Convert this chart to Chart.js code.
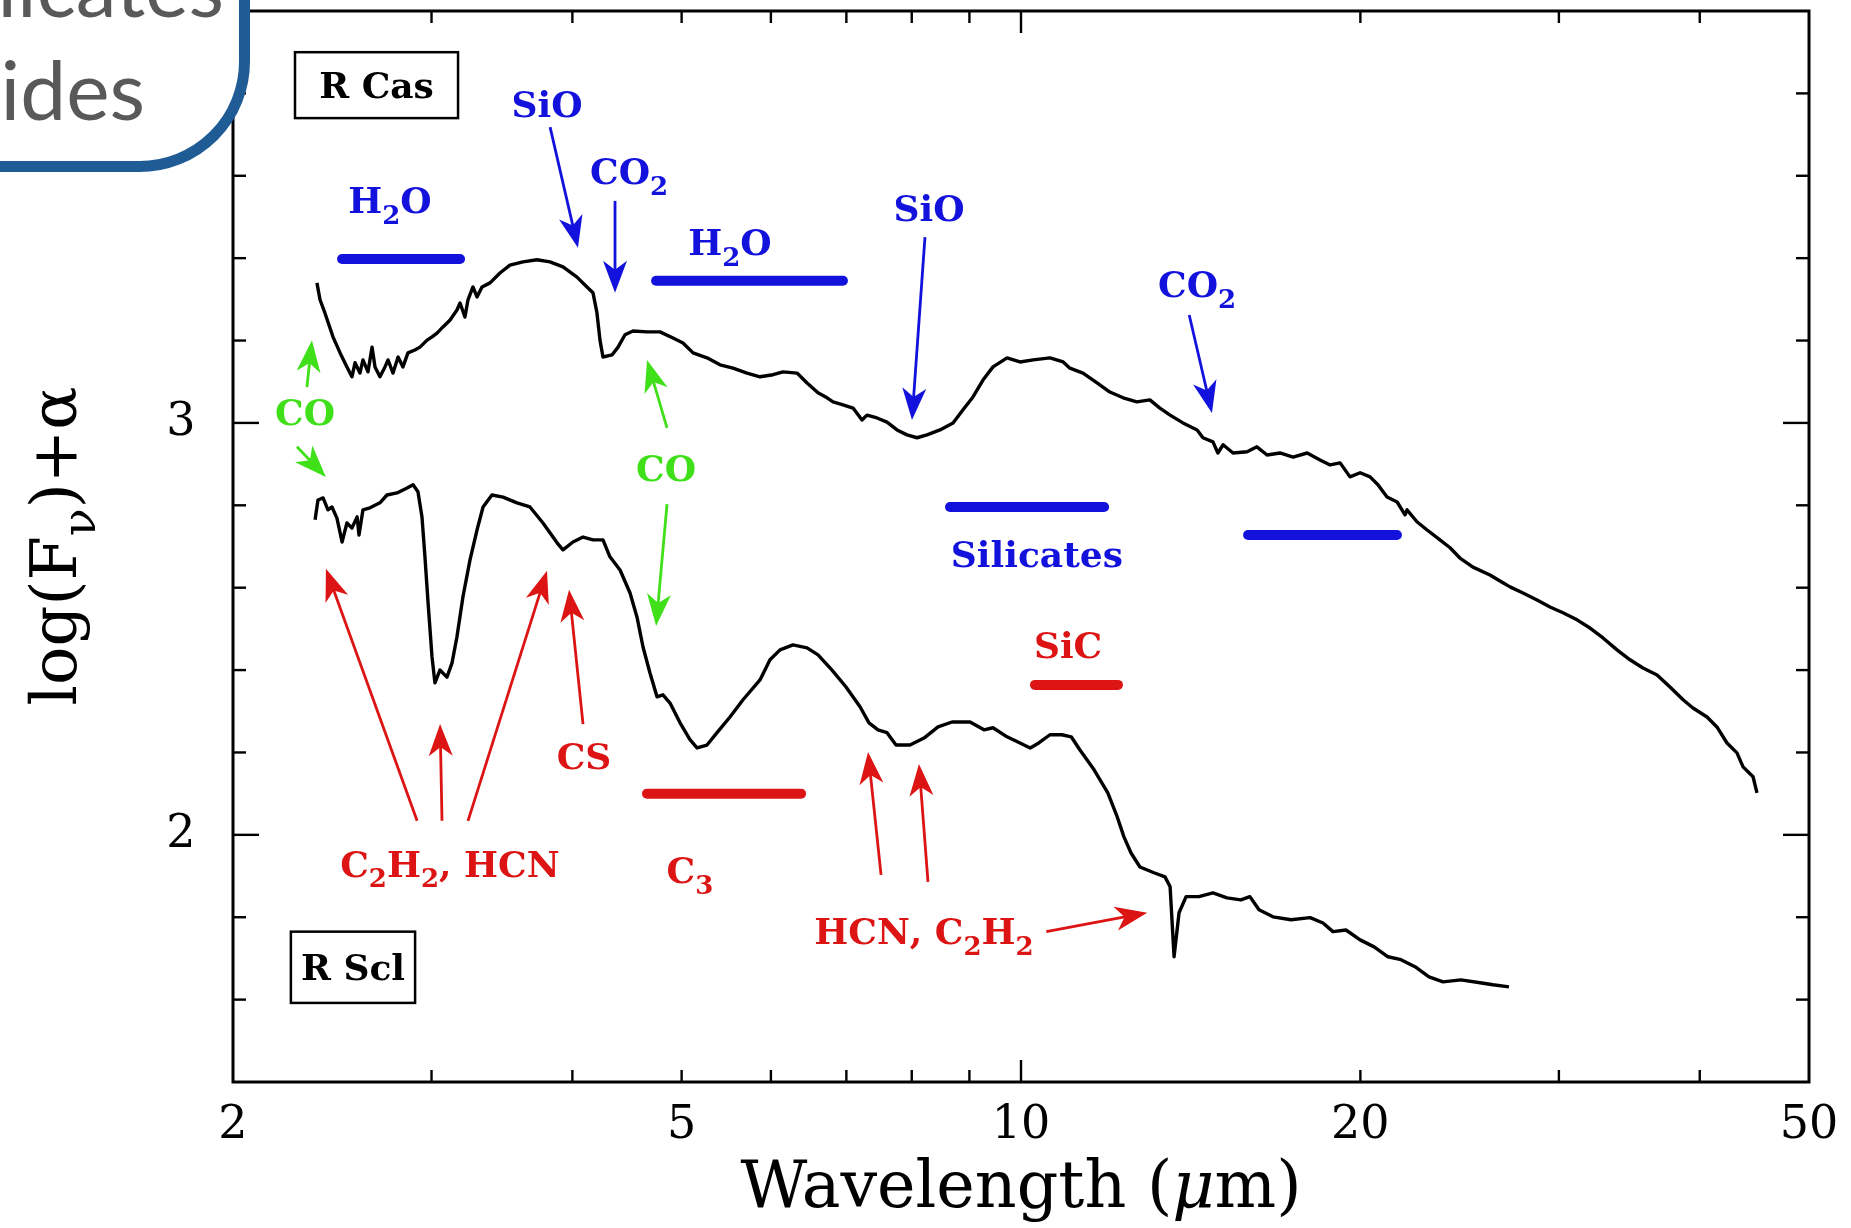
<!DOCTYPE html>
<html>
<head>
<meta charset="utf-8">
<title>R Cas / R Scl infrared spectra</title>
<script src="https://cdn.jsdelivr.net/npm/chart.js@4.4.1/dist/chart.umd.min.js"></script>
<style>
  html, body { margin: 0; padding: 0; background: #fff; }
  #wrap { width: 1851px; height: 1228px; position: relative; }
</style>
</head>
<body>
<div id="wrap"><canvas id="spectra" width="1851" height="1228"></canvas></div>
<script>
// ---- spectra: wavelength (um) and log(F_nu)+alpha ----
const rCasWave = [
  2.374, 2.389, 2.413, 2.453, 2.489, 2.524, 2.550, 2.566, 2.592, 2.608,
  2.635, 2.657, 2.673, 2.700, 2.728, 2.745, 2.773, 2.802, 2.830, 2.859,
  2.900, 2.930, 2.973, 3.003, 3.034, 3.071, 3.116, 3.160, 3.180, 3.212,
  3.232, 3.265, 3.292, 3.326, 3.381, 3.450, 3.521, 3.616, 3.721, 3.821,
  3.924, 4.038, 4.121, 4.172, 4.206, 4.232, 4.258, 4.337, 4.391, 4.454,
  4.527, 4.659, 4.784, 4.913, 5.014, 5.118, 5.266, 5.408, 5.553, 5.714,
  5.868, 6.026, 6.150, 6.329, 6.460, 6.606, 6.729, 6.812, 6.952, 7.096,
  7.227, 7.301, 7.452, 7.606, 7.763, 7.923, 8.086, 8.253, 8.475, 8.704,
  8.883, 9.066, 9.253, 9.444, 9.719, 9.979, 10.25, 10.61, 10.90, 11.05,
  11.35, 11.68, 11.99, 12.32, 12.67, 13.01, 13.28, 13.56, 13.92, 14.33,
  14.50, 14.80, 14.95, 15.11, 15.42, 15.87, 16.19, 16.53, 16.97, 17.43,
  17.94, 18.42, 18.80, 19.19, 19.58, 19.99, 20.40, 20.73, 21.12, 21.56,
  21.91, 22.00, 22.45, 22.92, 23.53, 24.02, 24.51, 25.17, 26.06, 26.76,
  27.15, 27.88, 28.69, 29.46, 30.25, 31.13, 31.97, 32.83, 33.78, 34.69,
  35.62, 36.66, 37.64, 38.66, 39.45, 40.60, 41.43, 42.29, 43.16, 43.70,
  44.60, 44.96];
const rCasFlux = [
  3.340, 3.299, 3.267, 3.209, 3.170, 3.136, 3.112, 3.146, 3.121, 3.153,
  3.124, 3.184, 3.136, 3.112, 3.136, 3.153, 3.121, 3.160, 3.136, 3.170,
  3.177, 3.184, 3.201, 3.209, 3.218, 3.233, 3.250, 3.274, 3.291, 3.257,
  3.299, 3.330, 3.306, 3.330, 3.340, 3.364, 3.383, 3.391, 3.396, 3.391,
  3.379, 3.354, 3.330, 3.316, 3.267, 3.201, 3.160, 3.165, 3.184, 3.214,
  3.223, 3.221, 3.221, 3.206, 3.194, 3.170, 3.158, 3.141, 3.133, 3.121,
  3.112, 3.117, 3.124, 3.121, 3.097, 3.073, 3.061, 3.051, 3.044, 3.036,
  3.007, 3.019, 3.012, 3.002, 2.983, 2.971, 2.964, 2.971, 2.983, 3.000,
  3.032, 3.063, 3.104, 3.136, 3.158, 3.148, 3.153, 3.158, 3.148, 3.133,
  3.121, 3.097, 3.075, 3.061, 3.051, 3.056, 3.036, 3.019, 3.000, 2.983,
  2.964, 2.954, 2.927, 2.947, 2.927, 2.930, 2.942, 2.922, 2.927, 2.917,
  2.927, 2.910, 2.898, 2.903, 2.869, 2.879, 2.869, 2.850, 2.820, 2.808,
  2.777, 2.789, 2.760, 2.740, 2.716, 2.697, 2.672, 2.650, 2.631, 2.612,
  2.602, 2.587, 2.570, 2.553, 2.539, 2.522, 2.502, 2.478, 2.449, 2.425,
  2.405, 2.388, 2.359, 2.328, 2.308, 2.286, 2.262, 2.223, 2.199, 2.165,
  2.141, 2.102];

const rSclWave = [
  2.365, 2.379, 2.404, 2.428, 2.448, 2.473, 2.499, 2.524, 2.550, 2.577,
  2.587, 2.608, 2.646, 2.700, 2.739, 2.796, 2.854, 2.889, 2.918, 2.942,
  2.960, 2.979, 3.003, 3.021, 3.052, 3.096, 3.128, 3.160, 3.199, 3.245,
  3.292, 3.333, 3.394, 3.472, 3.572, 3.668, 3.767, 3.877, 3.924, 4.005,
  4.088, 4.172, 4.258, 4.319, 4.409, 4.500, 4.564, 4.621, 4.687, 4.755,
  4.813, 4.883, 4.984, 5.086, 5.160, 5.266, 5.375, 5.519, 5.668, 5.868,
  5.989, 6.113, 6.277, 6.460, 6.606, 6.798, 6.995, 7.198, 7.331, 7.467,
  7.606, 7.747, 7.971, 8.203, 8.441, 8.686, 9.011, 9.272, 9.444, 9.719,
  9.979, 10.19, 10.37, 10.61, 10.87, 11.08, 11.28, 11.61, 11.94, 12.17,
  12.34, 12.52, 12.75, 13.12, 13.42, 13.56, 13.67, 13.81, 14.01, 14.38,
  14.80, 15.23, 15.67, 15.96, 16.26, 16.73, 17.36, 18.05, 18.53, 18.91,
  19.42, 19.99, 20.57, 21.16, 21.73, 22.36, 23.01, 23.68, 24.56, 25.54,
  26.22, 27.09];
const rSclFlux = [
  2.765, 2.813, 2.818, 2.789, 2.796, 2.769, 2.711, 2.757, 2.745, 2.772,
  2.728, 2.789, 2.794, 2.806, 2.825, 2.830, 2.842, 2.850, 2.833, 2.772,
  2.675, 2.563, 2.432, 2.369, 2.400, 2.383, 2.417, 2.481, 2.578, 2.667,
  2.740, 2.796, 2.825, 2.820, 2.806, 2.796, 2.757, 2.709, 2.692, 2.711,
  2.723, 2.716, 2.716, 2.675, 2.643, 2.587, 2.529, 2.456, 2.393, 2.335,
  2.340, 2.320, 2.272, 2.231, 2.211, 2.218, 2.248, 2.286, 2.328, 2.376,
  2.425, 2.449, 2.461, 2.454, 2.437, 2.400, 2.359, 2.311, 2.272, 2.255,
  2.248, 2.218, 2.218, 2.235, 2.262, 2.274, 2.274, 2.255, 2.260, 2.238,
  2.223, 2.211, 2.223, 2.243, 2.243, 2.238, 2.206, 2.158, 2.102, 2.044,
  1.995, 1.956, 1.922, 1.908, 1.898, 1.874, 1.704, 1.811, 1.850, 1.850,
  1.859, 1.847, 1.842, 1.850, 1.818, 1.801, 1.794, 1.799, 1.786, 1.765,
  1.769, 1.745, 1.728, 1.704, 1.697, 1.680, 1.655, 1.643, 1.648, 1.641,
  1.636, 1.631];

// ---- axes ----
const xTicks = [3, 4, 5, 6, 7, 8, 9, 10, 20, 30, 40];
const xMajorTicks = [10];
const xTickLabels = [2, 5, 10, 20, 50];
const yTicks = [1.6, 1.8, 2.0, 2.2, 2.4, 2.6, 2.8, 3.0, 3.2, 3.4, 3.6, 3.8];
const yMajorTicks = [2, 3];
const yTickLabels = [2, 3];

// ---- molecular band labels: [text, wavelength, flux, colour]  ("_" = subscript) ----
const featureLabels = [
  ['SiO', 3.798, 3.774, 'blue'],
  ['CO_2', 4.491, 3.612, 'blue'],
  ['H_2O', 2.756, 3.540, 'blue'],
  ['H_2O', 5.519, 3.439, 'blue'],
  ['SiO', 8.287, 3.522, 'blue'],
  ['CO_2', 14.33, 3.337, 'blue'],
  ['Silicates', 10.33, 2.682, 'blue'],
  ['CO', 2.317, 3.027, 'green'],
  ['CO', 4.843, 2.891, 'green'],
  ['C_2H_2, HCN', 3.115, 1.930, 'red'],
  ['CS', 4.096, 2.192, 'red'],
  ['C_3', 5.086, 1.915, 'red'],
  ['SiC', 11.01, 2.461, 'red'],
  ['HCN, C_2H_2', 8.202, 1.767, 'red']
];
// arrows: [fromWave, fromFlux, toWave, toFlux, colour]
const featureArrows = [
  [3.822, 3.718, 4.046, 3.425, 'blue'],
  [4.364, 3.539, 4.364, 3.316, 'blue'],
  [8.219, 3.451, 8.004, 3.007, 'blue'],
  [14.10, 3.262, 14.77, 3.024, 'blue'],
  [2.326, 3.087, 2.350, 3.201, 'green'],
  [2.279, 2.942, 2.418, 2.869, 'green'],
  [4.853, 2.988, 4.659, 3.153, 'green'],
  [4.853, 2.803, 4.746, 2.507, 'green'],
  [2.913, 2.034, 2.418, 2.646, 'red'],
  [3.065, 2.034, 3.053, 2.269, 'red'],
  [3.232, 2.034, 3.798, 2.641, 'red'],
  [4.088, 2.269, 3.973, 2.595, 'red'],
  [7.514, 1.903, 7.317, 2.201, 'red'],
  [8.270, 1.886, 8.119, 2.172, 'red'],
  [10.53, 1.765, 12.94, 1.811, 'red']
];
// band ranges: [fromWave, toWave, flux, colour]
const featureBars = [
  [2.499, 3.180, 3.398, 'blue'],
  [4.746, 6.951, 3.345, 'blue'],
  [8.650, 11.85, 2.796, 'blue'],
  [15.90, 21.55, 2.728, 'blue'],
  [4.659, 6.381, 2.100, 'red'],
  [10.29, 12.19, 2.364, 'red']
];
// star name boxes: [text, fromWave, toWave, topFlux, bottomFlux]
const starBoxes = [
  ['R Cas', 2.270, 3.167, 3.900, 3.740],
  ['R Scl', 2.251, 2.901, 1.765, 1.592]
];

const palette = { blue: '#1212dc', red: '#dc1414', green: '#3fe01a' };
const SERIF = '"DejaVu Serif", serif';

function toPoints(xs, ys) {
  return xs.map((x, i) => ({ x: x, y: ys[i] }));
}

// text with single-character subscripts written as "_c"
function drawRich(ctx, text, x, y, size, weight, align) {
  const parts = [];
  for (let i = 0; i < text.length; i++) {
    if (text[i] === '_') { parts.push({ s: text[i + 1], sub: true }); i++; }
    else parts.push({ s: text[i], sub: false });
  }
  const fontFor = sub => `${weight} ${sub ? Math.round(size * 0.72) : size}px ${SERIF}`;
  let width = 0;
  parts.forEach(p => { ctx.font = fontFor(p.sub); p.w = ctx.measureText(p.s).width; width += p.w; });
  let cx = align === 'center' ? x - width / 2 : (align === 'right' ? x - width : x);
  ctx.textAlign = 'left';
  ctx.textBaseline = 'alphabetic';
  parts.forEach(p => {
    ctx.font = fontFor(p.sub);
    ctx.fillText(p.s, cx, y + (p.sub ? size * 0.3 : 0));
    cx += p.w;
  });
}

function line(ctx, x1, y1, x2, y2) {
  ctx.beginPath();
  ctx.moveTo(x1, y1);
  ctx.lineTo(x2, y2);
  ctx.stroke();
}

function arrow(ctx, x1, y1, x2, y2) {
  const ang = Math.atan2(y2 - y1, x2 - x1);
  const len = 32, half = 12;
  const bx = x2 - len * Math.cos(ang), by = y2 - len * Math.sin(ang);
  line(ctx, x1, y1, x2 - 20 * Math.cos(ang), y2 - 20 * Math.sin(ang));
  ctx.beginPath();
  ctx.moveTo(x2, y2);
  ctx.lineTo(bx - half * Math.sin(ang), by + half * Math.cos(ang));
  ctx.lineTo(x2 - 0.72 * len * Math.cos(ang), y2 - 0.72 * len * Math.sin(ang));
  ctx.lineTo(bx + half * Math.sin(ang), by - half * Math.cos(ang));
  ctx.closePath();
  ctx.fill();
}

// frame with inward ticks on all four sides, tick labels, axis titles
const framePlugin = {
  id: 'frame',
  afterDatasetsDraw(chart) {
    const { ctx, chartArea: ca } = chart;
    const sx = chart.scales.x, sy = chart.scales.y;
    ctx.save();
    ctx.strokeStyle = '#000';
    ctx.fillStyle = '#000';
    ctx.lineWidth = 3;
    ctx.strokeRect(ca.left, ca.top, ca.right - ca.left, ca.bottom - ca.top);

    ctx.lineWidth = 2.4;
    xTicks.forEach(v => {
      const px = sx.getPixelForValue(v);
      const len = xMajorTicks.includes(v) ? 22 : 12;
      line(ctx, px, ca.bottom, px, ca.bottom - len);
      line(ctx, px, ca.top, px, ca.top + len);
    });
    yTicks.forEach(v => {
      const py = sy.getPixelForValue(v);
      const len = yMajorTicks.includes(v) ? 26 : 13;
      line(ctx, ca.left, py, ca.left + len, py);
      line(ctx, ca.right, py, ca.right - len, py);
    });

    ctx.font = `46px ${SERIF}`;
    ctx.textAlign = 'center';
    ctx.textBaseline = 'middle';
    xTickLabels.forEach(v => ctx.fillText(String(v), sx.getPixelForValue(v), ca.bottom + 44));
    yTickLabels.forEach(v => ctx.fillText(String(v), ca.left - 52, sy.getPixelForValue(v)));

    // x title, with an italic mu
    const pieces = [['Wavelength (', 'normal'], ['\u03bc', 'italic'], ['m)', 'normal']];
    let total = 0;
    pieces.forEach(p => { ctx.font = `${p[1]} 65px ${SERIF}`; p.w = ctx.measureText(p[0]).width; total += p.w; });
    let tx = (ca.left + ca.right) / 2 - total / 2;
    ctx.textAlign = 'left';
    ctx.textBaseline = 'alphabetic';
    pieces.forEach(p => { ctx.font = `${p[1]} 65px ${SERIF}`; ctx.fillText(p[0], tx, ca.bottom + 125); tx += p.w; });

    ctx.translate(76, 546);
    ctx.rotate(-Math.PI / 2);
    drawRich(ctx, 'log(F_\u03bd)+\u03b1', 0, 0, 64, 'normal', 'center');
    ctx.restore();
  }
};

// band markers, arrows, labels and star boxes, placed in data coordinates
const featurePlugin = {
  id: 'features',
  afterDatasetsDraw(chart) {
    const { ctx } = chart;
    const sx = chart.scales.x, sy = chart.scales.y;
    const X = v => sx.getPixelForValue(v), Y = v => sy.getPixelForValue(v);
    ctx.save();

    ctx.lineCap = 'round';
    ctx.lineWidth = 10;
    featureBars.forEach(([w1, w2, f, c]) => {
      ctx.strokeStyle = palette[c];
      line(ctx, X(w1), Y(f), X(w2), Y(f));
    });

    ctx.lineCap = 'butt';
    ctx.lineWidth = 2.8;
    featureArrows.forEach(([w1, f1, w2, f2, c]) => {
      ctx.strokeStyle = palette[c];
      ctx.fillStyle = palette[c];
      arrow(ctx, X(w1), Y(f1), X(w2), Y(f2));
    });

    const size = 36;
    featureLabels.forEach(([t, w, f, c]) => {
      ctx.fillStyle = palette[c];
      drawRich(ctx, t, X(w), Y(f) + size * 0.36, size, 'bold', 'center');
    });

    ctx.strokeStyle = '#000';
    ctx.lineWidth = 2.5;
    starBoxes.forEach(([t, w1, w2, fTop, fBot]) => {
      const x1 = X(w1), x2 = X(w2), y1 = Y(fTop), y2 = Y(fBot);
      ctx.fillStyle = '#fff';
      ctx.fillRect(x1, y1, x2 - x1, y2 - y1);
      ctx.strokeRect(x1, y1, x2 - x1, y2 - y1);
      ctx.fillStyle = '#000';
      drawRich(ctx, t, (x1 + x2) / 2, (y1 + y2) / 2 + size * 0.36, size, 'bold', 'center');
    });
    ctx.restore();
  }
};

// rounded slide callout sitting over the top-left corner
const calloutPlugin = {
  id: 'callout',
  afterDraw(chart) {
    const { ctx } = chart;
    ctx.save();
    ctx.beginPath();
    ctx.roundRect(-300, -300, 544.5, 466.5, [0, 0, 105, 0]);
    ctx.fillStyle = '#fff';
    ctx.fill();
    ctx.lineWidth = 11;
    ctx.strokeStyle = '#1f5c96';
    ctx.stroke();
    ctx.fillStyle = '#595959';
    ctx.font = '82px Lato, "Open Sans", sans-serif';
    ctx.textAlign = 'right';
    ctx.textBaseline = 'alphabetic';
    ctx.fillText('Silicates', 224, 17);
    ctx.fillText('Oxides', 145, 120);
    ctx.restore();
  }
};

const spectrumStyle = {
  showLine: true, borderColor: '#000', borderWidth: 3.4, borderJoinStyle: 'round',
  pointRadius: 0, tension: 0
};

new Chart(document.getElementById('spectra'), {
  type: 'scatter',
  data: {
    datasets: [
      Object.assign({ label: 'R Cas', data: toPoints(rCasWave, rCasFlux) }, spectrumStyle),
      Object.assign({ label: 'R Scl', data: toPoints(rSclWave, rSclFlux) }, spectrumStyle)
    ]
  },
  options: {
    responsive: false,
    animation: false,
    layout: { padding: { left: 233, right: 42, top: 11, bottom: 146 } },
    scales: {
      x: { type: 'logarithmic', min: 2, max: 50, display: false },
      y: { type: 'linear', min: 1.4, max: 4.0, display: false }
    },
    plugins: { legend: { display: false }, tooltip: { enabled: false } }
  },
  plugins: [framePlugin, featurePlugin, calloutPlugin]
});
</script>
</body>
</html>
